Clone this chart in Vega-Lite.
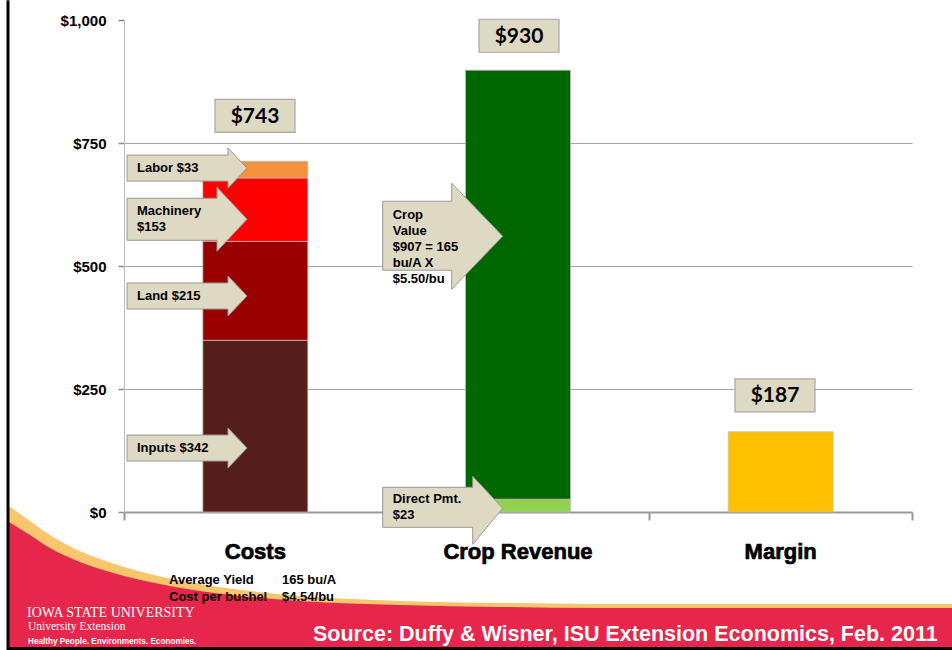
{
  "$schema": "https://vega.github.io/schema/vega-lite/v6.json",
  "width": 788,
  "height": 492,
  "autosize": {"type": "none"},
  "padding": {"left": 124, "top": 20, "right": 40, "bottom": 138},
  "background": "white",
  "config": {
    "view": {"stroke": null},
    "font": "Liberation Sans",
    "axisY": {"domainColor": "#bfbfbf", "domainWidth": 1, "tickColor": "#8c8c8c", "tickSize": 6, "tickWidth": 1.5, "labelFont": "Liberation Sans", "labelFontWeight": "bold", "labelFontSize": 15, "labelColor": "#000000", "labelPadding": 12, "gridColor": "#a6a6a6", "gridWidth": 1},
    "axisX": {"grid": false, "domainColor": "#999999", "domainWidth": 2, "tickColor": "#999999", "tickWidth": 2, "tickSize": 8}
  },
  "resolve": {"axis": {"x": "independent", "y": "independent"}},
  "datasets": {
    "bars": [
      {"cat": "Costs", "pos": 1, "part": "Inputs", "amount": 349, "rank": 1},
      {"cat": "Costs", "pos": 1, "part": "Land", "amount": 201, "rank": 2},
      {"cat": "Costs", "pos": 1, "part": "Machinery", "amount": 129, "rank": 3},
      {"cat": "Costs", "pos": 1, "part": "Labor", "amount": 34, "rank": 4},
      {"cat": "Crop Revenue", "pos": 2, "part": "Direct Payment", "amount": 26, "rank": 1},
      {"cat": "Crop Revenue", "pos": 2, "part": "Crop Value", "amount": 872, "rank": 2},
      {"cat": "Margin", "pos": 3, "part": "Margin", "amount": 163, "rank": 1}
    ],
    "categories": [
      {"cat": "Costs", "pos": 1},
      {"cat": "Crop Revenue", "pos": 2},
      {"cat": "Margin", "pos": 3}
    ],
    "totals": [
      {"label": "$743", "x": 0.9987, "y": 805},
      {"label": "$930", "x": 2.0038, "y": 968},
      {"label": "$187", "x": 2.9784, "y": 237}
    ],
    "notes": [
      {"label": "Labor $33", "kind": "small", "x": 0.5495, "y": 699},
      {"label": "Machinery\n$153", "kind": "machinery", "x": 0.5495, "y": 611.3},
      {"label": "Land $215", "kind": "small", "x": 0.5495, "y": 439},
      {"label": "Inputs $342", "kind": "small", "x": 0.5495, "y": 130},
      {"label": "Crop\nValue\n$907 = 165\nbu/A X\n$5.50/bu", "kind": "crop", "x": 1.523, "y": 603.2},
      {"label": "Direct Pmt.\n$23", "kind": "direct", "x": 1.523, "y": 25.8}
    ],
    "stats": [
      {"label": "Average Yield", "value": "165 bu/A", "y": -138.1},
      {"label": "Cost per bushel", "value": "$4.54/bu", "y": -172.6}
    ],
    "banner": [
      {"x": 0.0622, "top": -20.3, "band": 12.2},
      {"x": 0.1421, "top": -46.7, "band": -18.3},
      {"x": 0.2183, "top": -73.1, "band": -46.7},
      {"x": 0.3135, "top": -97.5, "band": -75.1},
      {"x": 0.4086, "top": -115.8, "band": -95.4},
      {"x": 0.599, "top": -142.2, "band": -125.9},
      {"x": 0.7893, "top": -160.4, "band": -146.2},
      {"x": 0.9797, "top": -172.6, "band": -160.4},
      {"x": 1.17, "top": -180.7, "band": -170.6},
      {"x": 1.5508, "top": -188.9, "band": -180.7},
      {"x": 1.9315, "top": -192.9, "band": -184.8},
      {"x": 2.3122, "top": -195.0, "band": -186.8},
      {"x": 3.6523, "top": -195.0, "band": -186.8}
    ],
    "footer": [
      {"id": "name", "text": "IOWA STATE UNIVERSITY"},
      {"id": "unit", "text": "University Extension"},
      {"id": "motto", "text": "Healthy People. Environments. Economies."},
      {"id": "source", "text": "Source:  Duffy & Wisner, ISU Extension Economics, Feb. 2011"}
    ]
  },
  "layer": [
    {
      "data": {"name": "bars"},
      "mark": {"type": "bar", "size": 105, "stroke": "#bfbfbf", "strokeWidth": 0.75},
      "encoding": {
        "x": {"field": "pos", "type": "quantitative", "title": null, "scale": {"domain": [0.5, 3.5], "nice": false, "zero": false, "padding": 0},
              "axis": {"orient": "bottom", "values": [0.5, 1.5, 2.5, 3.5], "labels": false, "title": null, "grid": false}},
        "y": {"field": "amount", "type": "quantitative", "stack": "zero", "title": null, "scale": {"domain": [0, 1000], "nice": false, "zero": false},
              "axis": {"orient": "left", "values": [0, 250, 500, 750, 1000], "format": "$,.0f", "title": null, "grid": true,
                       "gridOpacity": {"condition": {"test": "datum.value == 0 || datum.value == 1000", "value": 0}, "value": 1}}},
        "color": {"field": "part", "type": "nominal", "legend": null,
                  "scale": {"domain": ["Inputs", "Land", "Machinery", "Labor", "Direct Payment", "Crop Value", "Margin"],
                            "range": ["#561d1d", "#990000", "#ff0000", "#f5913c", "#92d050", "#006600", "#ffc000"]}},
        "order": {"field": "rank", "type": "quantitative"}
      }
    },
    {
      "data": {"name": "banner"},
      "mark": {"type": "area", "interpolate": "monotone", "color": "#f9c66e"},
      "encoding": {
        "x": {"field": "x", "type": "quantitative", "title": null, "axis": null},
        "y": {"field": "band", "type": "quantitative", "title": null, "axis": null},
        "y2": {"datum": -281}
      }
    },
    {
      "data": {"name": "banner"},
      "mark": {"type": "area", "interpolate": "monotone", "color": "#e6264b"},
      "encoding": {
        "x": {"field": "x", "type": "quantitative", "title": null, "axis": null},
        "y": {"field": "top", "type": "quantitative", "title": null, "axis": null},
        "y2": {"datum": -281}
      }
    },
    {
      "data": {"name": "totals"},
      "mark": {"type": "point", "shape": "M-40,-16.5H40V16.5H-40Z", "size": 4, "filled": true, "fill": "#ddd9c3", "stroke": "#a6a6a6", "strokeWidth": 1.2, "opacity": 1},
      "encoding": {
        "x": {"field": "x", "type": "quantitative", "title": null, "axis": null},
        "y": {"field": "y", "type": "quantitative", "title": null, "axis": null}
      }
    },
    {
      "data": {"name": "totals"},
      "mark": {"type": "text", "font": "Lato", "fontWeight": "bold", "fontSize": 21, "color": "#000000", "align": "center", "baseline": "middle", "dy": 1},
      "encoding": {
        "x": {"field": "x", "type": "quantitative", "title": null, "axis": null},
        "y": {"field": "y", "type": "quantitative", "title": null, "axis": null},
        "text": {"field": "label"}
      }
    },
    {
      "data": {"name": "notes"},
      "mark": {"type": "point", "size": 4, "filled": true, "fill": "#ddd9c3", "stroke": "#999999", "strokeWidth": 1, "opacity": 1},
      "encoding": {
        "x": {"field": "x", "type": "quantitative", "title": null, "axis": null},
        "y": {"field": "y", "type": "quantitative", "title": null, "axis": null},
        "shape": {"field": "kind", "type": "nominal", "legend": null,
                  "scale": {"domain": ["small", "machinery", "crop", "direct"],
                            "range": ["M-10,-13H91V-20L110,0L91,20V13H-10Z", "M-10,-13H80V-24L110,8L80,40V29H-10Z", "M-10,-14H59V-32L110,21L59,74V55H-10Z", "M-10,-12H80V-23L110,9L80,45V28H-10Z"]}}
      }
    },
    {
      "data": {"name": "notes"},
      "mark": {"type": "text", "font": "Liberation Sans", "fontWeight": "bold", "fontSize": 13, "color": "#000000", "align": "left", "baseline": "middle", "lineBreak": "\n", "lineHeight": 16},
      "encoding": {
        "x": {"field": "x", "type": "quantitative", "title": null, "axis": null},
        "y": {"field": "y", "type": "quantitative", "title": null, "axis": null},
        "text": {"field": "label"}
      }
    },
    {
      "data": {"name": "categories"},
      "mark": {"type": "text", "font": "Liberation Sans", "fontWeight": "bold", "fontSize": 22, "color": "#000000", "stroke": "#000000", "strokeWidth": 0.7, "align": "center", "baseline": "middle"},
      "encoding": {
        "x": {"field": "pos", "type": "quantitative", "title": null, "axis": null},
        "y": {"datum": -81.2, "axis": null},
        "text": {"field": "cat"}
      }
    },
    {
      "data": {"name": "stats"},
      "mark": {"type": "text", "font": "Liberation Sans", "fontWeight": "bold", "fontSize": 13, "color": "#000000", "align": "left", "baseline": "middle"},
      "encoding": {
        "x": {"datum": 0.6713, "axis": null},
        "y": {"field": "y", "type": "quantitative", "title": null, "axis": null},
        "text": {"field": "label"}
      }
    },
    {
      "data": {"name": "stats"},
      "mark": {"type": "text", "font": "Liberation Sans", "fontWeight": "bold", "fontSize": 13, "color": "#000000", "align": "left", "baseline": "middle"},
      "encoding": {
        "x": {"datum": 1.1015, "axis": null},
        "y": {"field": "y", "type": "quantitative", "title": null, "axis": null},
        "text": {"field": "value"}
      }
    },
    {
      "data": {"name": "footer"},
      "transform": [{"filter": "datum.id == 'name'"}],
      "mark": {"type": "text", "font": "Liberation Serif", "fontSize": 14, "color": "#ffffff", "align": "left", "baseline": "middle"},
      "encoding": {"x": {"datum": 0.1307, "axis": null}, "y": {"datum": -205.1, "axis": null}, "text": {"field": "text"}}
    },
    {
      "data": {"name": "footer"},
      "transform": [{"filter": "datum.id == 'unit'"}],
      "mark": {"type": "text", "font": "Liberation Serif", "fontSize": 11.5, "color": "#ffffff", "align": "left", "baseline": "middle"},
      "encoding": {"x": {"datum": 0.1345, "axis": null}, "y": {"datum": -233.5, "axis": null}, "text": {"field": "text"}}
    },
    {
      "data": {"name": "footer"},
      "transform": [{"filter": "datum.id == 'motto'"}],
      "mark": {"type": "text", "font": "Liberation Sans", "fontWeight": "bold", "fontSize": 8.2, "color": "#ffffff", "align": "left", "baseline": "middle"},
      "encoding": {"x": {"datum": 0.1345, "axis": null}, "y": {"datum": -264.0, "axis": null}, "text": {"field": "text"}}
    },
    {
      "data": {"name": "footer"},
      "transform": [{"filter": "datum.id == 'source'"}],
      "mark": {"type": "text", "font": "Liberation Sans", "fontWeight": "bold", "fontSize": 21.5, "color": "#ffffff", "align": "left", "baseline": "middle"},
      "encoding": {"x": {"datum": 1.2195, "axis": null}, "y": {"datum": -249.8, "axis": null}, "text": {"field": "text"}}
    },
    {
      "data": {"values": [{}]},
      "mark": {"type": "rule", "color": "#000000", "strokeWidth": 3},
      "encoding": {"x": {"datum": 0.0584, "axis": null}, "y": {"datum": -281, "axis": null}, "y2": {"datum": 1040}}
    },
    {
      "data": {"values": [{}]},
      "mark": {"type": "rule", "color": "#000000", "strokeWidth": 3},
      "encoding": {"x": {"datum": 0.0584, "axis": null}, "x2": {"datum": 3.6523}, "y": {"datum": -277.2, "axis": null}}
    }
  ]
}
